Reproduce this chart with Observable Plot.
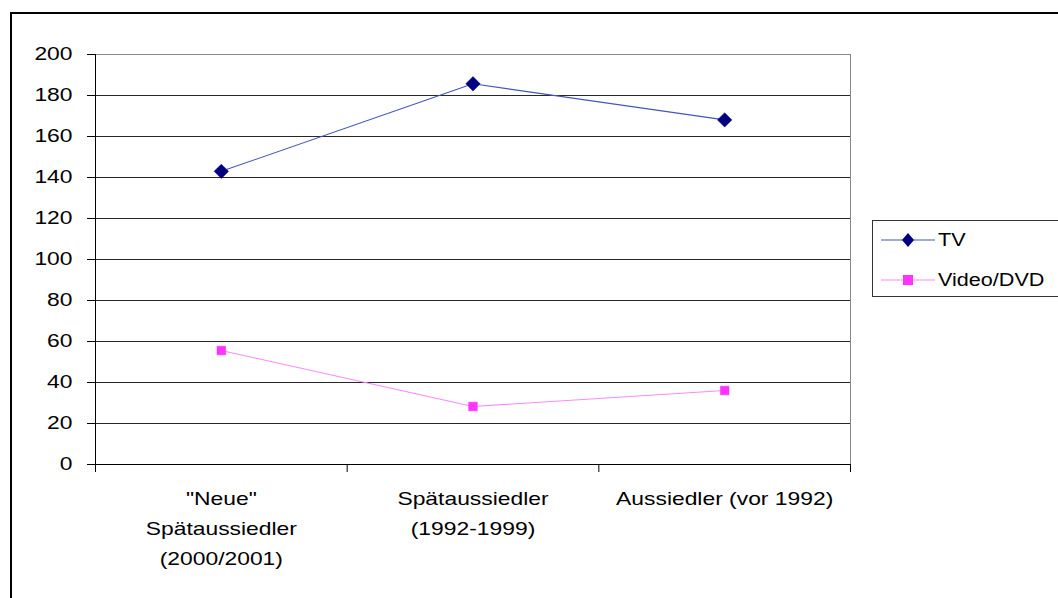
<!DOCTYPE html>
<html>
<head>
<meta charset="utf-8">
<script src="https://cdn.jsdelivr.net/npm/d3@7"></script>
<script src="https://cdn.jsdelivr.net/npm/@observablehq/plot@0.6"></script>
<style>
  html, body { margin: 0; padding: 0; background: #fff; overflow: hidden; }
  #wrap { position: relative; width: 1058px; height: 598px; font-family: "Liberation Sans", Arial, sans-serif; }
  #frame { position: absolute; left: 10px; top: 12px; width: 1100px; height: 700px; border: 2px solid #000; box-sizing: border-box; }
  #chart { position: absolute; left: 0; top: 0; }
  #legend { position: absolute; left: 872px; top: 220px; width: 200px; height: 77px; border: 1.5px solid #333; box-sizing: border-box; background: #fff; }
  .item { position: absolute; left: 8px; height: 20px; display: flex; align-items: center; font-size: 18px; color: #000; }
  .item span { margin-left: 3px; display: inline-block; transform: scaleX(1.2); transform-origin: left center; }
</style>
</head>
<body>
<div id="wrap">
  <div id="frame"></div>
  <div id="chart"></div>
  <div id="legend"></div>
</div>
<script>
const categories = ["\"Neue\"\nSpätaussiedler\n(2000/2001)", "Spätaussiedler\n(1992-1999)", "Aussiedler (vor 1992)"];
const seriesNames = ["TV", "Video/DVD"];
const tvValues = [143, 185.7, 168.1];
const videoValues = [55.6, 28.3, 36.1];
const yTicks = [0, 20, 40, 60, 80, 100, 120, 140, 160, 180, 200];
const colors = {"TV": "#000080", "Video/DVD": "#FF33FF"};
const lineColors = {"TV": "#4455bb", "Video/DVD": "#ff88ff"};

const data = [];
categories.forEach((c, i) => {
  data.push({series: "TV", idx: i + 0.5, value: tvValues[i]});
  data.push({series: "Video/DVD", idx: i + 0.5, value: videoValues[i]});
});
const catData = categories.map((c, i) => ({label: c, idx: i + 0.5, base: 0}));
const boundaries = d3.range(categories.length + 1);

const font = "Liberation Sans, Arial, sans-serif";

const chart = Plot.plot({
  width: 1058,
  height: 598,
  marginLeft: 95,
  marginRight: 208,
  marginTop: 54,
  marginBottom: 134,
  style: {fontFamily: font, fontSize: "18px", background: "transparent", color: "#000", overflow: "visible"},
  x: {type: "linear", domain: [0, categories.length], axis: null},
  y: {type: "linear", domain: [0, 200], axis: null},
  marks: [
    Plot.ruleY(yTicks.filter(d => d > 0 && d < 200), {stroke: "#000", strokeWidth: 1, strokeOpacity: 0.85}),
    Plot.ruleY([200], {stroke: "#888", strokeWidth: 1}),
    Plot.ruleX([categories.length], {stroke: "#888", strokeWidth: 1}),
    Plot.ruleX([0], {stroke: "#000", strokeWidth: 1}),
    Plot.axisY({ticks: yTicks, tickSize: 8, tickPadding: 15, stroke: "#000", fill: "#000", fontSize: 18, tickFormat: d => String(d), label: null}),
    Plot.ruleY([0], {stroke: "#000", strokeWidth: 1}),
    Plot.axisX({ticks: boundaries, tickSize: 8, tickFormat: () => "", label: null, stroke: "#000"}),
    Plot.text(catData, {x: "idx", y: "base", text: "label", dy: 19, lineAnchor: "top", lineHeight: 1.67, fontSize: 18, fill: "#000", textAnchor: "middle"}),
    Plot.line(data, {x: "idx", y: "value", z: "series", stroke: d => lineColors[d.series], strokeWidth: 1.1}),
    Plot.dot(data.filter(d => d.series === "TV"), {x: "idx", y: "value", symbol: "diamond2", r: 6.5, fill: colors["TV"], stroke: colors["TV"], strokeWidth: 0.5}),
    Plot.dot(data.filter(d => d.series === "Video/DVD"), {x: "idx", y: "value", symbol: "square2", r: 5.5, fill: colors["Video/DVD"], stroke: colors["Video/DVD"], strokeWidth: 0.5})
  ]
});
document.getElementById("chart").appendChild(chart);

// widen glyphs horizontally to match the stretched reference rendering
chart.querySelectorAll("text").forEach(t => {
  const tr = t.getAttribute("transform");
  if (tr) t.setAttribute("transform", tr + " scale(1.27,1)");
});

// Legend
const legend = document.getElementById("legend");
seriesNames.forEach((name, i) => {
  const item = document.createElement("div");
  item.className = "item";
  item.style.top = (i === 0 ? 9 : 49) + "px";
  const isTV = name === "TV";
  const marker = isTV
    ? `<path d="M27,3 L33,10 L27,17 L21,10 Z" fill="${colors[name]}"/>`
    : `<rect x="22" y="5" width="10" height="10" fill="${colors[name]}"/>`;
  item.innerHTML = `<svg width="54" height="20"><line x1="0" x2="54" y1="10" y2="10" stroke="${lineColors[name]}" stroke-width="1.2"/>${marker}</svg><span>${name}</span>`;
  legend.appendChild(item);
});
</script>
</body>
</html>
